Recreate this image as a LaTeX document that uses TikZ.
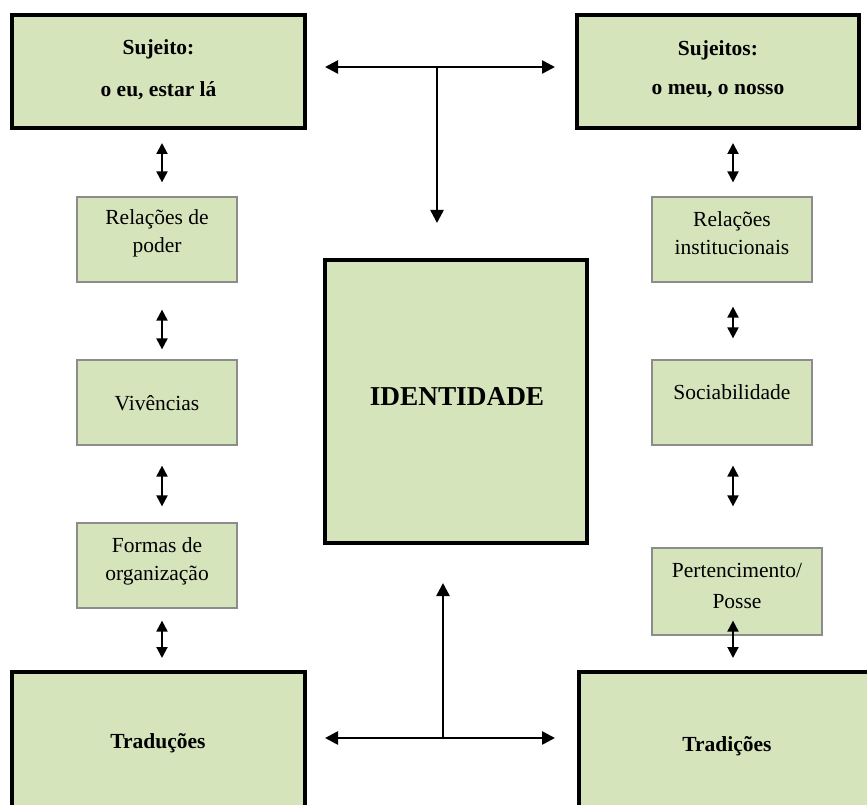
\documentclass[tikz,border=0pt]{standalone}
\usepackage{fontspec}
\setmainfont{Liberation Serif}
\usetikzlibrary{arrows.meta}
\definecolor{boxgreen}{HTML}{D6E4BC}
\definecolor{boxgray}{HTML}{8C8C8C}
\begin{document}
\begin{tikzpicture}[x=1pt,y=-1pt,
  bigbox/.style={draw=black, line width=4pt, fill=boxgreen},
  smallbox/.style={draw=boxgray, line width=1.2pt, fill=boxgreen, minimum width=160pt, minimum height=85pt},
  lbl/.style={font=\fontsize{21.5}{28}\selectfont, align=center, inner sep=0pt},
  blbl/.style={font=\fontsize{21.5}{42}\selectfont\bfseries, align=center, inner sep=0pt},
  dbl/.style={{Triangle[length=11pt,width=11pt]}-{Triangle[length=11pt,width=11pt]}, line width=2pt},
  tdbl/.style={{Triangle[length=13pt,width=13pt]}-{Triangle[length=13pt,width=13pt]}, line width=2.5pt},
  tone/.style={-{Triangle[length=13pt,width=13pt]}, line width=2.5pt}]
\useasboundingbox (0,0) rectangle (867,805);
\clip (0,0) rectangle (867,805);
\fill[white] (0,0) rectangle (867,805);
% big boxes
\node[bigbox, minimum width=293pt, minimum height=113pt] (sujL) at (158.5,71.5) {};
\node[bigbox, minimum width=282pt, minimum height=113pt] (sujR) at (718,71.5) {};
\node[bigbox, minimum width=293pt, minimum height=228pt] (tradL) at (158.5,786) {};
\node[bigbox, minimum width=371pt, minimum height=228pt] (tradR) at (764.5,786) {};
\node[bigbox, minimum width=262pt, minimum height=283pt] (iden) at (456,401.5) {};
% small boxes
\node[smallbox] (rp) at (157,239.5) {};
\node[smallbox] (vv) at (157,402.5) {};
\node[smallbox] (fo) at (157,565.5) {};
\node[smallbox] (ri) at (732,239.5) {};
\node[smallbox] (so) at (732,402.5) {};
\node[smallbox, minimum width=170pt, minimum height=87pt] (pe) at (737,591.5) {};
% texts
\node[blbl] (tsujL) at (158.5,70) {Sujeito:\\o eu, estar lá};
\node[blbl, font=\fontsize{21.5}{39}\selectfont\bfseries] (tsujR) at (718,69) {Sujeitos:\\o meu, o nosso};
\node[blbl] (ttradL) at (158,743) {Traduções};
\node[blbl] (ttradR) at (727,746) {Tradições};
\node[blbl, font=\fontsize{27.3}{32}\selectfont\bfseries] (tiden) at (457,397) {IDENTIDADE};
\node[lbl] (trp) at (157,233) {Relações de\\poder};
\node[lbl] (tvv) at (157,403) {Vivências};
\node[lbl] (tfo) at (157,561) {Formas de\\organização};
\node[lbl] (tri) at (732,233) {Relações\\institucionais};
\node[lbl] (tso) at (732,392) {Sociabilidade};
\node[lbl, font=\fontsize{21.5}{31}\selectfont] (tpe) at (737,586) {Pertencimento/\\Posse};
% column x positions
\coordinate (lx) at (162,0);
\coordinate (rx) at (733,0);
% left column arrows
\draw[dbl, shorten <=13pt, shorten >=14pt] (sujL.south -| lx) -- (rp.north -| lx);
\draw[dbl, shorten <=27pt, shorten >=10pt] (rp.south -| lx) -- (vv.north -| lx);
\draw[dbl, shorten <=20pt, shorten >=16pt] (vv.south -| lx) -- (fo.north -| lx);
\draw[dbl, shorten <=12pt, shorten >=12pt] (fo.south -| lx) -- (tradL.north -| lx);
% right column arrows
\draw[dbl, shorten <=13pt, shorten >=14pt] (sujR.south -| rx) -- (ri.north -| rx);
\draw[dbl, shorten <=24pt, shorten >=21pt] (ri.south -| rx) -- (so.north -| rx);
\draw[dbl, shorten <=20pt, shorten >=41pt] (so.south -| rx) -- (pe.north -| rx);
\draw[dbl, shorten <=-15pt, shorten >=12pt] (pe.south -| rx) -- (tradR.north -| rx);
% top T
\coordinate (ty) at (0,67);
\coordinate (tx) at (437,67);
\draw[tdbl, shorten <=18pt, shorten >=20pt] (sujL.east |- ty) -- (sujR.west |- ty);
\draw[tone, shorten >=35pt] (tx) -- (tx |- iden.north);
% bottom T
\coordinate (by) at (0,738);
\coordinate (bx) at (443,738);
\draw[tdbl, shorten <=18pt, shorten >=22pt] (tradL.east |- by) -- (tradR.west |- by);
\draw[tone, shorten >=38pt] (bx) -- (bx |- iden.south);
\end{tikzpicture}
\end{document}
